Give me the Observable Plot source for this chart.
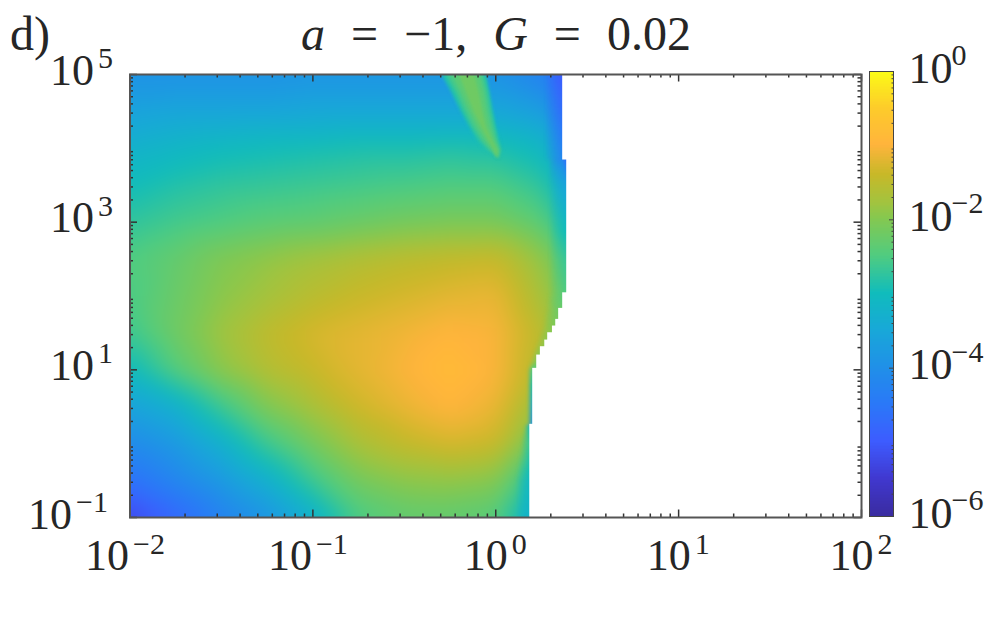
<!DOCTYPE html>
<html><head><meta charset="utf-8">
<script src="https://cdn.jsdelivr.net/npm/d3@7"></script>
<script src="https://cdn.jsdelivr.net/npm/@observablehq/plot@0.6"></script>
<style>
html,body{margin:0;padding:0;background:#fff}
#root{position:relative;width:997px;height:632px;overflow:hidden;font-family:"Liberation Serif",serif;color:#262626}
#root svg{position:absolute;left:0;top:0;background:transparent}
#title{position:absolute;left:0;width:992px;top:9px;text-align:center;font-size:48px;line-height:50px;white-space:pre;word-spacing:14px}
#tag{position:absolute;left:10px;top:9px;font-size:48px;line-height:50px}
</style></head><body>
<div id="root"><div id="tag">d)</div><div id="title"><i>a</i> = −1, <i>G</i> = 0.02</div></div>
<script>
// log10 of x and y for the sampled grid
const gridX = [-2,-1.75,-1.5,-1.25,-1,-0.75,-0.5,-0.25,0,0.25,0.5];
const gridY = [5,4.5,4.25,4,3.5,3,2.5,2,1.5,1,0.5,0,-0.5,-1];
// log10 of the plotted quantity, one row per gridY
const gridV = [
[-3.95,-3.95,-3.95,-3.95,-3.9,-3.9,-3.9,-3.9,-3.95,-4.3,-5],
[-3.6,-3.55,-3.55,-3.55,-3.5,-3.5,-3.5,-3.5,-3.5,-3.7,-4.6],
[-3.45,-3.35,-3.3,-3.25,-3.25,-3.2,-3.2,-3.2,-3.2,-3.35,-4.2],
[-3.25,-3.15,-3.05,-3,-2.95,-2.9,-2.9,-2.85,-2.9,-3.1,-4],
[-3.0,-2.85,-2.75,-2.7,-2.65,-2.6,-2.55,-2.5,-2.5,-2.75,-3.6],
[-2.75,-2.6,-2.5,-2.4,-2.35,-2.25,-2.15,-2.1,-2.1,-2.4,-3.2],
[-2.5,-2.3,-2.05,-1.9,-1.75,-1.62,-1.52,-1.45,-1.4,-1.9,-2.7],
[-2.55,-2.25,-1.95,-1.75,-1.55,-1.4,-1.3,-1.2,-1.15,-1.7,-2.5],
[-2.65,-2.2,-1.8,-1.5,-1.3,-1.2,-1.1,-0.98,-1.03,-1.5,-2.4],
[-3.05,-2.45,-1.95,-1.6,-1.4,-1.2,-1.03,-0.85,-1.02,-1.6,-2.4],
[-3.6,-3.3,-2.65,-2.05,-1.7,-1.35,-1.15,-0.98,-1.15,-1.9,-2.8],
[-4.1,-3.8,-3.3,-2.65,-2.15,-1.7,-1.45,-1.3,-1.4,-2.3,-3.2],
[-4.6,-4.2,-3.8,-3.3,-2.65,-2.15,-1.95,-1.9,-2,-3.0,-3.6],
[-5.3,-4.8,-4.3,-3.9,-3.3,-2.55,-2.35,-2.35,-2.45,-3.6,-4.2]
];
// strip along the right-hand boundary: position, value, and fade-in width
const edgeX = [0.366,0.366,0.366,0.388,0.388,0.388,0.388,0.388,0.344,0.31,0.268,0.224,0.202,0.202,0.186,0.186,0.186,0.186];
const edgeY = [5,4.5,3.86,3.84,3.5,3,2.5,2.04,1.8,1.55,1.35,1.1,1,0.27,0.24,0,-0.5,-1];
const edgeV = [-5,-4.7,-4.2,-4.8,-3.6,-3.1,-2.7,-2.5,-2.2,-2.0,-1.9,-2.1,-2.6,-4.0,-3.1,-2.7,-3.1,-3.2];
const edgeFade = [0.1,0.1,0.1,0.1,0.1,0.1,0.1,0.1,0.07,0.06,0.05,0.04,0.03,0.03,0.03,0.05,0.08,0.08];
// nested outlines of the green wedge at the top: y, then left and right x per level
const wedgeY = [5,4.75,4.5,4.28,4.1,3.97,3.87];
const wedgeLevels = [-2.85,-2.6,-2.4,-2.2];
const wedgeL = [
[-0.295,-0.24,-0.19,-0.142,-0.10,-0.06,0.015],
[-0.27,-0.215,-0.17,-0.125,-0.08,-0.035,0.013],
[-0.24,-0.19,-0.145,-0.1,-0.055,-0.015,0.011],
[-0.2,-0.16,-0.12,-0.075,-0.035,-0.005,0.005]
];
const wedgeR = [
[-0.05,-0.03,-0.012,0.005,0.022,0.038,0.025],
[-0.065,-0.042,-0.025,-0.005,0.012,0.03,0.02],
[-0.085,-0.062,-0.045,-0.025,-0.002,0.02,0.015],
[-0.115,-0.09,-0.07,-0.05,-0.018,0.007,0.007]
];
// white region: top and bottom (log10 y) and start (log10 x) of each blank band
const blankTop = [5,3.85,2.035,1.824,1.675,1.585,1.494,1.395,1.305,1.192,1.012,0.254];
const blankBottom = [3.85,2.035,1.824,1.675,1.585,1.494,1.395,1.305,1.192,1.012,0.254,-1];
const blankStart = [0.366,0.388,0.366,0.344,0.328,0.31,0.284,0.268,0.244,0.224,0.202,0.186];
// colour map: log10 value -> colour
const cmapStops = [-6,-5.5,-5,-4.5,-4,-3.5,-3,-2.5,-2,-1.8,-1.4,-1,-0.5,-0.15,0];
const cmapColors = ["#3a2ca0","#4038d0","#3d5cff","#2a78f8","#2090e8","#18a8d8","#10bcbc","#50cc80","#84c850","#a0c440","#c8b828","#ffb43c","#fdcc2a","#fcee1c","#faff14"];
// ticks
const xMajor = [-2,-1,0,1,2];
const yMajor = [-1,1,3,5];
const yDecades = [-1,0,1,2,3,4];
const xDecades = [-2,-1,0,1];
const minorMult = [2,3,4,5,6,7,8,9];
const xExp = ["−2","−1","0","1","2"];
const yExp = ["−1","1","3","5"];
const cbMajor = [-6,-4,-2,0];
const cbExp = ["−6","−4","−2","0"];
const cbDecades = [-6,-5,-4,-3,-2,-1];

const p10 = v => Math.pow(10, v);
const samples = [];
gridY.forEach((y,i)=>gridX.forEach((x,j)=>samples.push({x,y,v:gridV[i][j]})));
const strip = [];
edgeX.forEach((x,i)=>{
  strip.push({x,y:edgeY[i],v:edgeV[i],o:1});
  strip.push({x:x-edgeFade[i],y:edgeY[i],v:edgeV[i],o:0});
});
strip.push({x:-2,y:5,v:-4,o:0},{x:-2,y:-1,v:-4,o:0},{x:2,y:5,v:-4,o:1},{x:2,y:-1,v:-4,o:1});
const blanks = blankTop.map((t,i)=>({t,b:blankBottom[i],s:blankStart[i]}));
const minors = (dec) => dec.flatMap(d=>minorMult.map(m=>m*p10(d)));
const colorScale = {type:"linear",domain:cmapStops,range:cmapColors};
const wedgeMarks = wedgeLevels.map((lv,k)=>Plot.areaX(wedgeY.map((y,i)=>({y,l:wedgeL[k][i],r:wedgeR[k][i]})),{
  y:d=>p10(d.y),x1:d=>p10(d.l),x2:d=>p10(d.r),fill:()=>lv,curve:"linear",clip:true,imageFilter:"blur(1.8px)"
}));

const font = "'Liberation Serif',serif";
const W = 997, H = 632, ml = 129.5, mr = 136, mt = 74, mb = 115;
const fh = H-mt-mb, fw = W-ml-mr;
const ink = "#333";
const xLabels = xMajor.map((d,i)=>({v:p10(d),e:xExp[i],neg:d<0}));
const yLabels = yMajor.map((d,i)=>({v:p10(d),e:yExp[i],neg:d<0}));
const big = {fontFamily:font,fontSize:44,fill:"#262626",lineAnchor:"middle"};
const small = {fontFamily:font,fontSize:30,fill:"#262626",lineAnchor:"middle"};

const main = Plot.plot({
  width:W,height:H,marginLeft:ml,marginRight:mr,marginTop:mt,marginBottom:mb,
  style:{background:"transparent",overflow:"visible"},
  x:{type:"log",domain:[0.01,100],axis:null},
  y:{type:"log",domain:[0.1,1e5],axis:null},
  color:colorScale,
  marks:[
    Plot.raster(samples,{x:d=>p10(d.x),y:d=>p10(d.y),fill:"v",interpolate:"barycentric",blur:9,imageRendering:"auto"}),
    ...wedgeMarks,
    Plot.raster(strip,{x:d=>p10(d.x),y:d=>p10(d.y),fill:"v",fillOpacity:"o",interpolate:"barycentric",blur:1,imageRendering:"auto"}),
    Plot.rect(blanks,{x1:d=>p10(d.s),x2:100,y1:d=>p10(d.b),y2:d=>p10(d.t),insetTop:-0.6,insetBottom:-0.6,fill:"white"}),
    Plot.ruleX(minors(xDecades),{x:d=>d,insetBottom:fh-3.5,stroke:ink,strokeWidth:1.5}),
    Plot.ruleX(minors(xDecades),{x:d=>d,insetTop:fh-3.5,stroke:ink,strokeWidth:1.5}),
    Plot.ruleX(xMajor.map(p10),{x:d=>d,insetBottom:fh-7.5,stroke:ink,strokeWidth:1.5}),
    Plot.ruleX(xMajor.map(p10),{x:d=>d,insetTop:fh-7.5,stroke:ink,strokeWidth:1.5}),
    Plot.ruleY(minors(yDecades),{y:d=>d,insetRight:fw-3.5,stroke:ink,strokeWidth:1.5}),
    Plot.ruleY(minors(yDecades),{y:d=>d,insetLeft:fw-3.5,stroke:ink,strokeWidth:1.5}),
    Plot.ruleY(yMajor.map(p10),{y:d=>d,insetRight:fw-7.5,stroke:ink,strokeWidth:1.5}),
    Plot.ruleY(yMajor.map(p10),{y:d=>d,insetLeft:fw-7.5,stroke:ink,strokeWidth:1.5}),
    Plot.frame({stroke:"#555",strokeWidth:2}),
    Plot.text(xLabels.filter(d=>d.neg),{x:"v",text:()=>"10",frameAnchor:"bottom",dy:38,dx:-1,textAnchor:"end",...big}),
    Plot.text(xLabels.filter(d=>d.neg),{x:"v",text:"e",frameAnchor:"bottom",dy:26.5,dx:3,textAnchor:"start",...small}),
    Plot.text(xLabels.filter(d=>!d.neg),{x:"v",text:()=>"10",frameAnchor:"bottom",dy:38,dx:12,textAnchor:"end",...big}),
    Plot.text(xLabels.filter(d=>!d.neg),{x:"v",text:"e",frameAnchor:"bottom",dy:26.5,dx:16,textAnchor:"start",...small}),
    Plot.text(yLabels.filter(d=>d.neg),{y:"v",text:()=>"10",frameAnchor:"left",dx:-58,dy:-3,textAnchor:"end",...big}),
    Plot.text(yLabels.filter(d=>d.neg),{y:"v",text:"e",frameAnchor:"left",dx:-54,dy:-15,textAnchor:"start",...small}),
    Plot.text(yLabels.filter(d=>!d.neg),{y:"v",text:()=>"10",frameAnchor:"left",dx:-36,dy:-4,textAnchor:"end",...big}),
    Plot.text(yLabels.filter(d=>!d.neg),{y:"v",text:"e",frameAnchor:"left",dx:-32,dy:-16,textAnchor:"start",...small})
  ]
});

const levels = d3.range(-6,0,0.02);
const cbLabels = cbMajor.map((d,i)=>({v:p10(d),e:cbExp[i]}));
const cbar = Plot.plot({
  width:W,height:H,marginLeft:869,marginRight:104,marginTop:71,marginBottom:116,
  style:{background:"transparent",overflow:"visible"},
  x:{axis:null,domain:[0,1]},
  y:{type:"log",domain:[1e-6,1],axis:null},
  color:colorScale,
  marks:[
    Plot.rect(levels,{x1:0,x2:1,y1:d=>p10(d),y2:d=>p10(d+0.025),fill:d=>d,shapeRendering:"crispEdges"}),
    Plot.ruleY(minors(cbDecades),{y:d=>d,insetLeft:22.5,stroke:"#444",strokeWidth:1}),
    Plot.ruleY(cbMajor.map(p10),{y:d=>d,insetLeft:20,stroke:"#444",strokeWidth:1}),
    Plot.frame({stroke:"#444",strokeWidth:1}),
    Plot.text(cbLabels,{y:"v",text:()=>"10",frameAnchor:"right",dx:15,dy:-3,textAnchor:"start",...big}),
    Plot.text(cbLabels,{y:"v",text:"e",frameAnchor:"right",dx:58,dy:-16,textAnchor:"start",...small})
  ]
});
document.getElementById("root").append(main, cbar);
</script>
</body></html>
